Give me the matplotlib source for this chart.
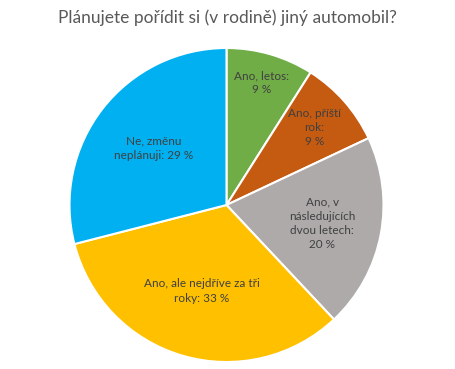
import numpy as np
import matplotlib.pyplot as plt

title = "Plánujete pořídit si (v rodině) jiný automobil?"
labels = ["Ano, letos:\n9 %",
          "Ano, příští\nrok:\n9 %",
          "Ano, v\nnásledujících\ndvou letech:\n20 %",
          "Ano, ale nejdříve za tři\nroky: 33 %",
          "Ne, změnu\nneplánuji: 29 %"]
values = [9, 9, 20, 33, 29]
colors = ["#70AD47", "#C55A11", "#AEAAAA", "#FFC000", "#00B0F0"]
label_r = [0.81, 0.745, 0.62, 0.57, 0.59]

plt.rcParams['font.family'] = ['Lato', 'DejaVu Sans']

fig = plt.figure(figsize=(4.55, 3.69), dpi=100)
ax = fig.add_axes([(226.5 - 157) / 455, (369 - 362) / 369, 314 / 455, 314 / 369])

wedges, _ = ax.pie(values, colors=colors, startangle=90, counterclock=False,
                   radius=1, wedgeprops=dict(edgecolor="white", linewidth=1.5))

for w, lab, r in zip(wedges, labels, label_r):
    mid = np.deg2rad((w.theta1 + w.theta2) / 2)
    ax.text(r * np.cos(mid), r * np.sin(mid), lab, ha="center", va="center",
            fontsize=8.5, color="#404040", linespacing=1.35)

ax.set_xlim(-1, 1)
ax.set_ylim(-1, 1)
ax.set_aspect("equal")
ax.axis("off")

fig.text(0.5, 1 - 18 / 369, title, ha="center", va="center", fontsize=12.5, color="#595959")

fig.savefig("out.png", dpi=100)
